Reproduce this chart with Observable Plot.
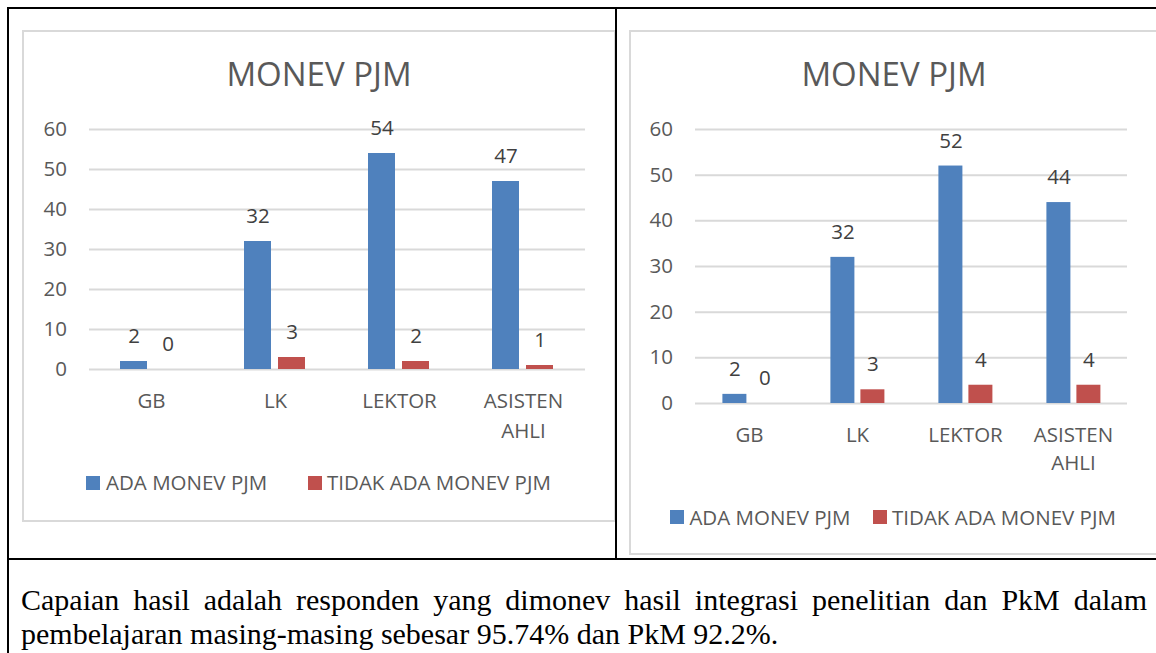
<!DOCTYPE html>
<html>
<head>
<meta charset="utf-8">
<script src="https://cdn.jsdelivr.net/npm/d3@7"></script>
<script src="https://cdn.jsdelivr.net/npm/@observablehq/plot@0.6"></script>
<style>
  html, body { margin: 0; padding: 0; background: #fff; width: 1156px; height: 653px; overflow: hidden; }
  .abs { position: absolute; }
  .line { position: absolute; background: #000; }
  .frame { position: absolute; border: 2px solid #d9d9d9; box-sizing: border-box; }
  .title { position: absolute; width: 400px; text-align: center; font-family: "Open Sans"; font-size: 33px; line-height: 33px; color: #595959; white-space: nowrap; }
  .lg { position: absolute; font-family: "Open Sans"; font-size: 20.5px; line-height: 20.5px; color: #595959; white-space: nowrap; }
  .sw { position: absolute; width: 14px; height: 14px; }
  #para { position: absolute; left: 21px; top: 582.9px; font-family: "Liberation Serif", "Times New Roman", serif; font-size: 30px; line-height: 34px; color: #000; white-space: nowrap; }
</style>
</head>
<body>
<div class="frame" style="left:22px; top:30px; width:594px; height:492px;"></div>
<div class="frame" style="left:629px; top:30px; width:600px; height:525px;"></div>
<div id="chart1" class="abs" style="left:0px; top:0px;"></div>
<div id="chart2" class="abs" style="left:616px; top:0px;"></div>
<div id="overlay"></div>
<div class="line" style="left:7px; top:7px; width:1200px; height:2px;"></div>
<div class="line" style="left:7px; top:7px; width:2px; height:700px;"></div>
<div class="line" style="left:615px; top:7px; width:2px; height:553px;"></div>
<div class="line" style="left:7px; top:558px; width:1200px; height:2px;"></div>
<div id="para"><div id="l1"></div><div id="l2"></div></div>
<script>
const categories = ["GB", "LK", "LEKTOR", "ASISTEN\nAHLI"];
const series = ["ADA MONEV PJM", "TIDAK ADA MONEV PJM"];
const colors = ["#4f81bd", "#c0504d"];
const ada1 = [2, 32, 54, 47];
const tidak1 = [0, 3, 2, 1];
const ada2 = [2, 32, 52, 44];
const tidak2 = [0, 3, 4, 4];
const yTicks = [0, 10, 20, 30, 40, 50, 60];
const chartTitle = "MONEV PJM";
const paraLines = [
  "Capaian hasil adalah responden yang dimonev hasil integrasi penelitian dan PkM dalam",
  "pembelajaran masing-masing sebesar 95.74% dan PkM 92.2%."
];

function makeRows(a, b) {
  const rows = [];
  categories.forEach((c, i) => {
    rows.push({cat: c, series: series[0], value: a[i]});
    rows.push({cat: c, series: series[1], value: b[i]});
  });
  return rows;
}

function makeChart(rows, cfg) {
  return Plot.plot({
    width: cfg.width,
    height: 560,
    marginLeft: cfg.ml,
    marginRight: cfg.mr,
    marginTop: 129,
    marginBottom: cfg.mb,
    style: {background: "transparent", fontFamily: "Open Sans", fontSize: "20.5px", color: "#595959", overflow: "visible"},
    facet: {data: rows, x: "cat"},
    fx: {domain: categories, padding: 0, axis: null},
    x: {domain: series, paddingInner: 0.2, paddingOuter: 0.882, axis: null},
    y: {domain: [0, 60], ticks: yTicks, tickSize: 0, tickPadding: cfg.tp, label: null},
    color: {domain: series, range: colors},
    marks: [
      Plot.ruleY(yTicks, {stroke: "#d9d9d9", strokeWidth: 2}),
      Plot.barY(rows, {x: "series", y: "value", fill: "series"}),
      Plot.text(rows, {x: "series", y: "value", text: d => String(d.value), dy: -25, fill: "#404040"}),
      Plot.text(rows, {filter: d => d.series === series[0], text: d => d.cat, frameAnchor: "bottom", lineAnchor: "top", dy: cfg.labDy, lineHeight: cfg.lh, fill: "#595959"})
    ]
  });
}

document.getElementById("chart1").appendChild(makeChart(makeRows(ada1, tidak1), {width: 616, ml: 87, mr: 30, mb: 191, tp: 22.5, labDy: 17.5, lh: 1.46}));
document.getElementById("chart2").appendChild(makeChart(makeRows(ada2, tidak2), {width: 540, ml: 77.6, mr: 27.2, mb: 157, tp: 22.6, labDy: 18.5, lh: 1.37}));

// titles and legends
const overlay = document.getElementById("overlay");
function addDiv(cls, style, text) {
  const d = document.createElement("div");
  d.className = cls;
  Object.assign(d.style, style);
  if (text != null) d.textContent = text;
  overlay.appendChild(d);
}
[319, 894].forEach(cx => addDiv("title", {left: (cx - 200) + "px", top: "56.7px"}, chartTitle));
const legends = [
  {top: 471.8, sq: 476, pos: [[86, 106], [308, 327]]},
  {top: 506.8, sq: 509.5, pos: [[670, 689.4], [873, 892]]}
];
legends.forEach(l => {
  series.forEach((s, i) => {
    addDiv("sw", {left: l.pos[i][0] + "px", top: l.sq + "px", background: colors[i]});
    addDiv("lg", {left: l.pos[i][1] + "px", top: l.top + "px"}, s);
  });
});

// paragraph: first line justified to the cell width, second line left-aligned
const l1 = document.getElementById("l1");
const span = document.createElement("span");
span.textContent = paraLines[0];
l1.appendChild(span);
document.getElementById("l2").textContent = paraLines[1];
const natural = span.getBoundingClientRect().width;
const gaps = paraLines[0].split(" ").length - 1;
span.style.wordSpacing = ((1126 - natural) / gaps) + "px";
</script>
</body>
</html>
